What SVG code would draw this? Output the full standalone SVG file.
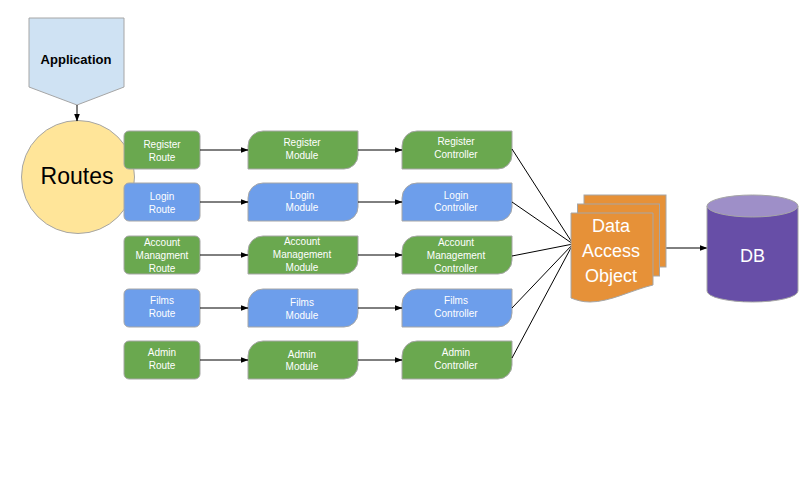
<svg xmlns="http://www.w3.org/2000/svg" width="808" height="500" viewBox="0 0 808 500">
<defs>
<marker id="ah" markerWidth="8" markerHeight="6" refX="7.5" refY="3" orient="auto" markerUnits="userSpaceOnUse">
<path d="M0,0 L8,3 L0,6 Z" fill="#000"/>
</marker>
<style>
.g{fill:#6aa84f;stroke:#a6a6a6;stroke-width:1}
.b{fill:#6d9eeb;stroke:#a6a6a6;stroke-width:1}
.t{font-family:"Liberation Sans",Arial,sans-serif;font-size:10px;fill:#fff;text-anchor:middle}
.c{stroke:#000;stroke-width:1;fill:none}
.a{marker-end:url(#ah)}
</style>
</defs>
<rect width="808" height="500" fill="#fff"/>

<g id="application">
<path d="M29,18 H124 V87 L77,105 L29,87 Z" fill="#cfe2f3" stroke="#a6a6a6"/>
<text x="76" y="63.5" font-family="Liberation Sans,Arial,sans-serif" font-size="13" font-weight="bold" text-anchor="middle" fill="#000">Application</text>
</g>
<g id="routes">
<circle cx="78" cy="177" r="56.5" fill="#ffe599" stroke="#a6a6a6"/>
<text x="77" y="184" font-family="Liberation Sans,Arial,sans-serif" font-size="23" text-anchor="middle" fill="#000">Routes</text>
</g>

<g id="register-route"><rect class="g" x="124" y="131" width="76" height="38" rx="5"/><text class="t" x="162" y="147.5">Register</text><text class="t" x="162" y="161">Route</text></g>
<g id="login-route"><rect class="b" x="124" y="183" width="76" height="38" rx="5"/><text class="t" x="162" y="200">Login</text><text class="t" x="162" y="213">Route</text></g>
<g id="account-route"><rect class="g" x="124" y="236" width="76" height="38" rx="5"/><text class="t" x="162" y="246">Account</text><text class="t" x="162" y="259">Managment</text><text class="t" x="162" y="272">Route</text></g>
<g id="films-route"><rect class="b" x="124" y="289" width="76" height="38" rx="5"/><text class="t" x="162" y="304">Films</text><text class="t" x="162" y="317">Route</text></g>
<g id="admin-route"><rect class="g" x="124" y="341" width="76" height="38" rx="5"/><text class="t" x="162" y="356">Admin</text><text class="t" x="162" y="369">Route</text></g>

<g id="register-module"><path class="g" d="M248,169 V146 A15,15 0 0 1 263,131 H358 V155 A14,14 0 0 1 344,169 Z"/><text class="t" x="302" y="145.5">Register</text><text class="t" x="302" y="159">Module</text></g>
<g id="login-module"><path class="b" d="M248,221 V198 A15,15 0 0 1 263,183 H358 V207 A14,14 0 0 1 344,221 Z"/><text class="t" x="302" y="198.5">Login</text><text class="t" x="302" y="211">Module</text></g>
<g id="account-module"><path class="g" d="M248,274 V251 A15,15 0 0 1 263,236 H358 V260 A14,14 0 0 1 344,274 Z"/><text class="t" x="302" y="245">Account</text><text class="t" x="302" y="258">Management</text><text class="t" x="302" y="271">Module</text></g>
<g id="films-module"><path class="b" d="M248,327 V304 A15,15 0 0 1 263,289 H358 V313 A14,14 0 0 1 344,327 Z"/><text class="t" x="302" y="306">Films</text><text class="t" x="302" y="319">Module</text></g>
<g id="admin-module"><path class="g" d="M248,379 V356 A15,15 0 0 1 263,341 H358 V365 A14,14 0 0 1 344,379 Z"/><text class="t" x="302" y="357.5">Admin</text><text class="t" x="302" y="370">Module</text></g>

<g id="register-controller"><path class="g" d="M402,169 V146 A15,15 0 0 1 417,131 H512 V155 A14,14 0 0 1 498,169 Z"/><text class="t" x="456" y="145">Register</text><text class="t" x="456" y="158">Controller</text></g>
<g id="login-controller"><path class="b" d="M402,221 V198 A15,15 0 0 1 417,183 H512 V207 A14,14 0 0 1 498,221 Z"/><text class="t" x="456" y="198.5">Login</text><text class="t" x="456" y="211">Controller</text></g>
<g id="account-controller"><path class="g" d="M402,274 V251 A15,15 0 0 1 417,236 H512 V260 A14,14 0 0 1 498,274 Z"/><text class="t" x="456" y="246">Account</text><text class="t" x="456" y="259">Management</text><text class="t" x="456" y="272">Controller</text></g>
<g id="films-controller"><path class="b" d="M402,327 V304 A15,15 0 0 1 417,289 H512 V313 A14,14 0 0 1 498,327 Z"/><text class="t" x="456" y="304">Films</text><text class="t" x="456" y="317">Controller</text></g>
<g id="admin-controller"><path class="g" d="M402,379 V356 A15,15 0 0 1 417,341 H512 V365 A14,14 0 0 1 498,379 Z"/><text class="t" x="456" y="356">Admin</text><text class="t" x="456" y="369">Controller</text></g>

<g id="connectors">
<line class="c a" x1="77" y1="105" x2="77" y2="121"/>
<line class="c a" x1="200" y1="150" x2="248" y2="150"/>
<line class="c a" x1="200" y1="202" x2="248" y2="202"/>
<line class="c a" x1="200" y1="255" x2="248" y2="255"/>
<line class="c a" x1="200" y1="308" x2="248" y2="308"/>
<line class="c a" x1="200" y1="360" x2="248" y2="360"/>
<line class="c a" x1="358" y1="150" x2="402" y2="150"/>
<line class="c a" x1="358" y1="202" x2="402" y2="202"/>
<line class="c a" x1="358" y1="255" x2="402" y2="255"/>
<line class="c a" x1="358" y1="308" x2="402" y2="308"/>
<line class="c a" x1="358" y1="360" x2="402" y2="360"/>
<line class="c" x1="512" y1="149" x2="573" y2="244"/>
<line class="c" x1="512" y1="202" x2="573" y2="244"/>
<line class="c" x1="512" y1="256" x2="573" y2="244"/>
<line class="c" x1="512" y1="308" x2="573" y2="244"/>
<line class="c" x1="512" y1="358" x2="573" y2="244"/>
<line class="c a" x1="666" y1="248" x2="707" y2="248"/>
</g>

<g id="dao">
<rect x="584" y="195" width="82" height="72" fill="#e69138" stroke="#a6a6a6"/>
<rect x="577.5" y="204" width="82" height="72" fill="#e69138" stroke="#a6a6a6"/>
<path d="M571,213 H653 V285 C632,290 610,302 590,302 C582,302 576,300 571,298 Z" fill="#e69138" stroke="#a6a6a6"/>
<g font-family="Liberation Sans,Arial,sans-serif" font-size="18" fill="#fff" text-anchor="middle">
<text x="611" y="231.5">Data</text>
<text x="611" y="257">Access</text>
<text x="611" y="282">Object</text>
</g>
</g>

<g id="db">
<path d="M707,206 V291 A45.5,11 0 0 0 798,291 V206 Z" fill="#674ea7" stroke="#a6a6a6"/>
<ellipse cx="752.5" cy="206" rx="45.5" ry="11" fill="#9e8fc8" stroke="#a6a6a6"/>
<text x="752.5" y="262" font-family="Liberation Sans,Arial,sans-serif" font-size="18" fill="#fff" text-anchor="middle">DB</text>
</g>
</svg>
